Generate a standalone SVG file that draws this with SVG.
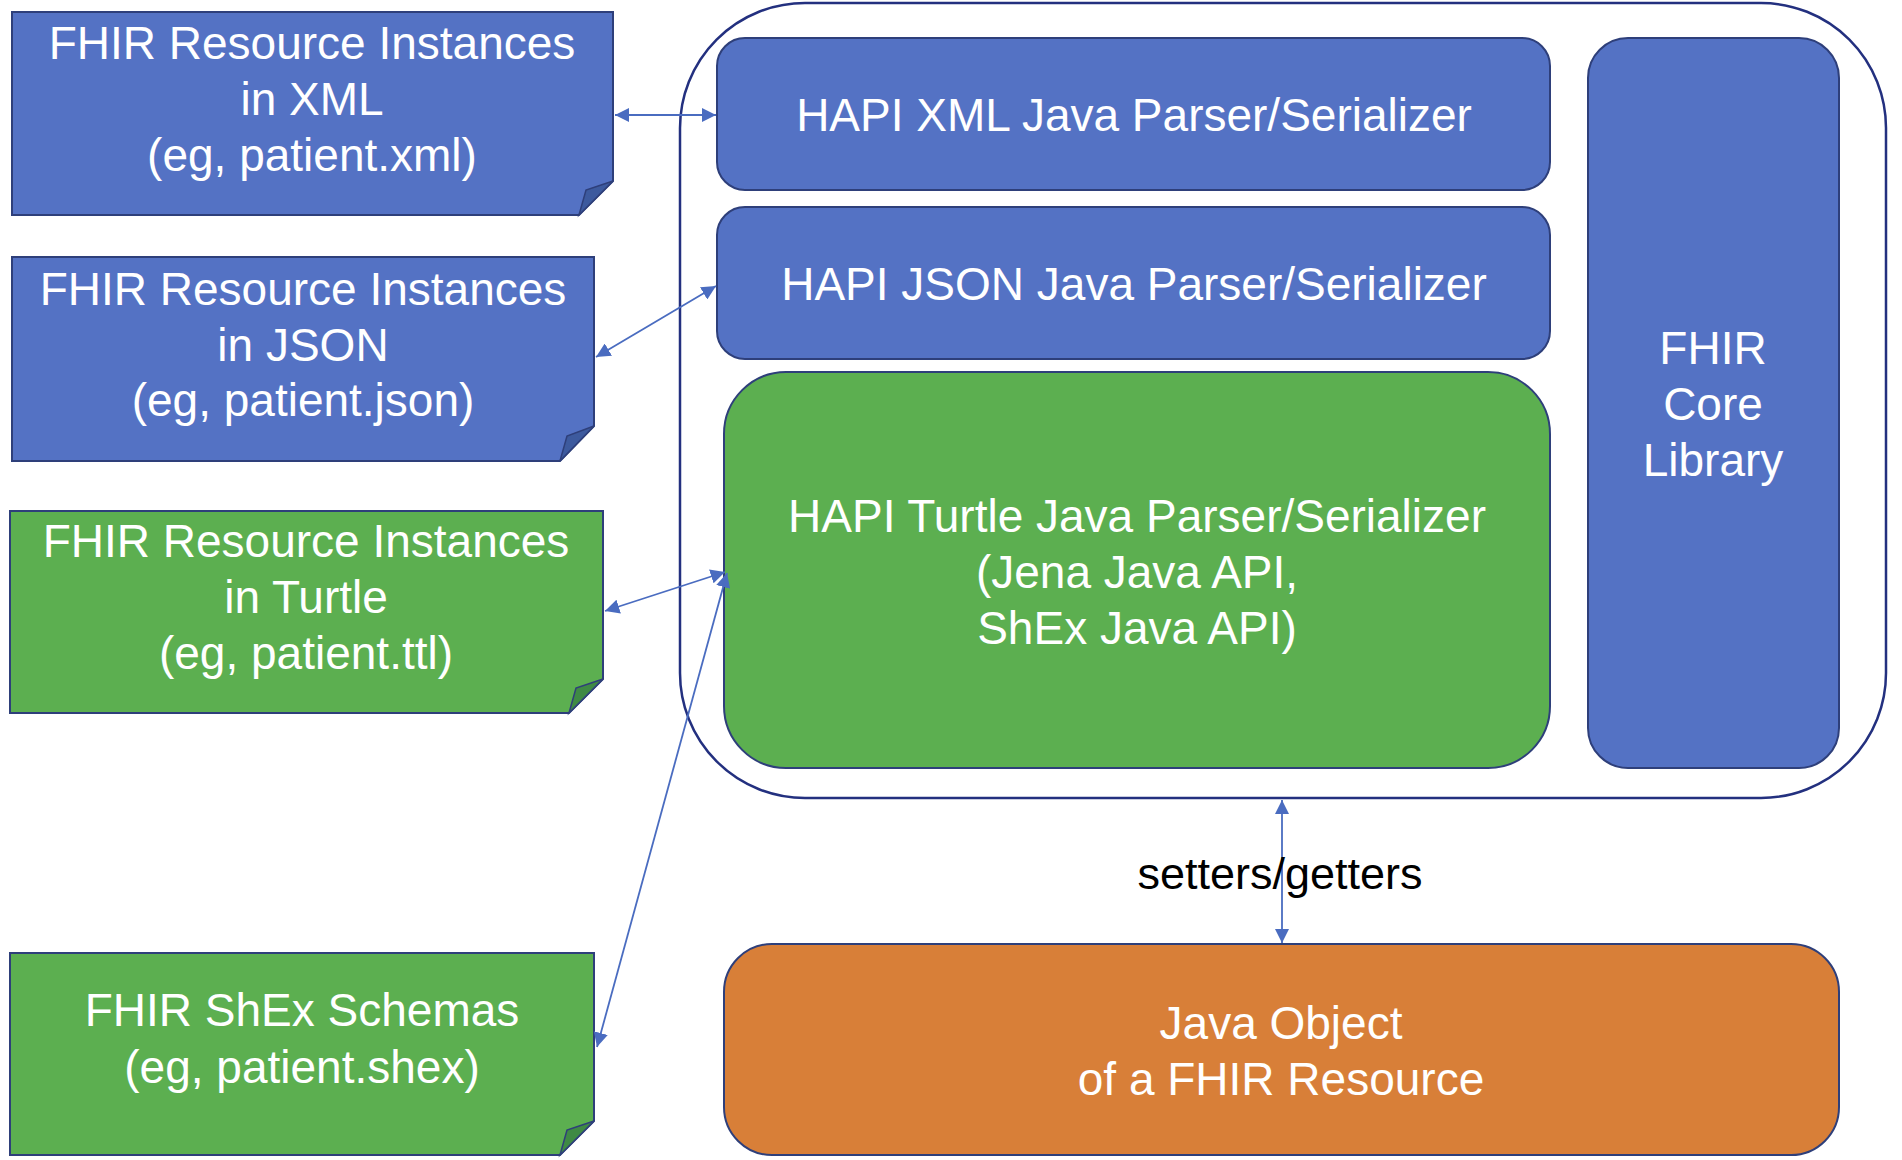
<svg xmlns="http://www.w3.org/2000/svg" width="1902" height="1160" viewBox="0 0 1902 1160">
<defs>
<style>
.t{font-family:"Liberation Sans",Arial,sans-serif;font-size:46px;fill:#ffffff;text-anchor:middle}
.k{font-family:"Liberation Sans",Arial,sans-serif;font-size:45px;fill:#000000;text-anchor:middle}
.blue{fill:#5472C4;stroke:#2E3F7A;stroke-width:2}
.green{fill:#5CAF50;stroke:#2E3F7A;stroke-width:2}
.orange{fill:#D87F38;stroke:#2E3F7A;stroke-width:2}
.foldb{fill:#3D5A9E;stroke:#2E3F7A;stroke-width:1.5}
.foldg{fill:#3F8A44;stroke:#2E3F7A;stroke-width:1.5}
.c{stroke:#4A6CC0;stroke-width:1.8;fill:none;marker-start:url(#ah);marker-end:url(#ah)}
</style>
<marker id="ah" viewBox="0 0 10 10" refX="10" refY="5" markerWidth="8" markerHeight="8" markerUnits="strokeWidth" orient="auto-start-reverse">
<path d="M0,0 L10,5 L0,10 z" fill="#4A6CC0"/>
</marker>
</defs>
<rect width="1902" height="1160" fill="#ffffff"/>

<g id="container">
<rect x="680" y="3" width="1206" height="795" rx="125" ry="125" fill="#ffffff" stroke="#23307F" stroke-width="2.5"/>
</g>

<g id="doc-xml">
<polygon class="blue" points="12,12 613,12 613,181 579,215 12,215"/>
<polygon class="foldb" points="613,181 579,215 586,190"/>
<text class="t" x="312" y="59">FHIR Resource Instances</text>
<text class="t" x="312" y="115">in XML</text>
<text class="t" x="312" y="171">(eg, patient.xml)</text>
</g>

<g id="doc-json">
<polygon class="blue" points="12,257 594,257 594,426 560,461 12,461"/>
<polygon class="foldb" points="594,426 560,461 567,436"/>
<text class="t" x="303" y="305">FHIR Resource Instances</text>
<text class="t" x="303" y="361">in JSON</text>
<text class="t" x="303" y="416">(eg, patient.json)</text>
</g>

<g id="doc-turtle">
<polygon class="green" points="10,511 603,511 603,679 569,713 10,713"/>
<polygon class="foldg" points="603,679 569,713 576,688"/>
<text class="t" x="306" y="557">FHIR Resource Instances</text>
<text class="t" x="306" y="613">in Turtle</text>
<text class="t" x="306" y="669">(eg, patient.ttl)</text>
</g>

<g id="doc-shex">
<polygon class="green" points="10,953 594,953 594,1121 560,1155 10,1155"/>
<polygon class="foldg" points="594,1121 560,1155 567,1130"/>
<text class="t" x="302" y="1026">FHIR ShEx Schemas</text>
<text class="t" x="302" y="1083">(eg, patient.shex)</text>
</g>

<g id="hapi-xml">
<rect class="blue" x="717" y="38" width="833" height="152" rx="28"/>
<text class="t" x="1134" y="131">HAPI XML Java Parser/Serializer</text>
</g>

<g id="hapi-json">
<rect class="blue" x="717" y="207" width="833" height="152" rx="28"/>
<text class="t" x="1134" y="300">HAPI JSON Java Parser/Serializer</text>
</g>

<g id="hapi-turtle">
<rect class="green" x="724" y="372" width="826" height="396" rx="62"/>
<text class="t" x="1137" y="532">HAPI Turtle Java Parser/Serializer</text>
<text class="t" x="1137" y="588">(Jena Java API,</text>
<text class="t" x="1137" y="644">ShEx Java API)</text>
</g>

<g id="fhir-core">
<rect class="blue" x="1588" y="38" width="251" height="730" rx="40"/>
<text class="t" x="1713" y="364">FHIR</text>
<text class="t" x="1713" y="420">Core</text>
<text class="t" x="1713" y="476">Library</text>
</g>

<g id="java-object">
<rect class="orange" x="724" y="944" width="1115" height="211" rx="48"/>
<text class="t" x="1281" y="1039">Java Object</text>
<text class="t" x="1281" y="1095">of a FHIR Resource</text>
</g>

<g id="connectors">
<line class="c" x1="615" y1="115" x2="716" y2="115"/>
<line class="c" x1="596" y1="357" x2="716" y2="286"/>
<line class="c" x1="605" y1="611" x2="725" y2="572"/>
<line class="c" x1="597" y1="1047" x2="727" y2="573"/>
<line class="c" x1="1282" y1="800" x2="1282" y2="943"/>
<text class="k" x="1280" y="889">setters/getters</text>
</g>
</svg>
